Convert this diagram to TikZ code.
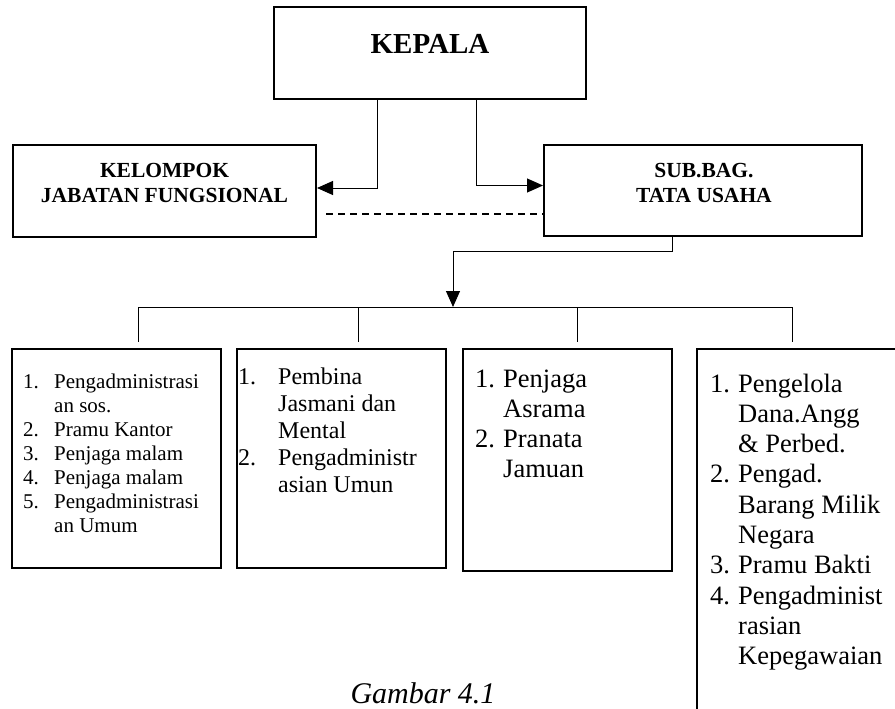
\documentclass[tikz,border=0pt]{standalone}
\usepackage{fontspec}
\setmainfont{Liberation Serif}
\usetikzlibrary{arrows.meta}
\tikzset{
  unitbox/.style={draw, line width=2pt, inner sep=0pt},
  conn/.style={line width=1pt, -{Triangle[length=16pt,width=14pt]}},
  link/.style={line width=1pt},
  listtxt/.style={anchor=base west, inner sep=0pt},
  headtxt/.style={anchor=base, inner sep=0pt},
}
\newcommand{\fs}[2]{\fontsize{#1}{#2}\selectfont}
\newcommand{\itemlist}[2]{\begin{tabular}[t]{@{}p{#1}@{}l@{}}#2\end{tabular}}
\newcommand{\headlines}[1]{\begin{tabular}[t]{@{}c@{}}#1\end{tabular}}

\begin{document}
\begin{tikzpicture}[x=1pt, y=-1pt]
\useasboundingbox (0,0) rectangle (895,709);
\clip (0,0) rectangle (895,709);
% upper boxes
\node[unitbox, minimum width=312, minimum height=92] (kepala) at (430,53) {};
\node[unitbox, minimum width=303, minimum height=92] (kelompok) at (164.5,191) {};
\node[unitbox, minimum width=318, minimum height=91] (subbag) at (703,190.5) {};
\node[headtxt, font=\bfseries\fs{29}{34}] (kepalatxt) at (430,54) {KEPALA};
\node[headtxt, font=\bfseries\fs{21.5}{25}] (kelompoktxt) at (164.5,177)
  {\headlines{KELOMPOK\\JABATAN FUNGSIONAL}};
\node[headtxt, font=\bfseries\fs{21.5}{25}] (subbagtxt) at (704,177)
  {\headlines{SUB.BAG.\\TATA USAHA}};
% lower boxes
\node[unitbox, minimum width=209, minimum height=219] (box1) at (116.5,458.5) {};
\node[unitbox, minimum width=209, minimum height=219] (box2) at (341.5,458.5) {};
\node[unitbox, minimum width=209, minimum height=222] (box3) at (567.5,460) {};
\node[unitbox, minimum width=210, minimum height=375] (box4) at (802,536.5) {};
\node[listtxt, font=\fs{21}{24}] (list1) at (23,388) {\itemlist{31pt}{%
  1. & Pengadministrasi\\ & an sos.\\ 2. & Pramu Kantor\\ 3. & Penjaga malam\\
  4. & Penjaga malam\\ 5. & Pengadministrasi\\ & an Umum}};
\node[listtxt, font=\fs{24}{27}] (list2) at (238,384) {\itemlist{40pt}{%
  1. & Pembina\\ & Jasmani dan\\ & Mental\\ 2. & Pengadministr\\ & asian Umun}};
\node[listtxt, font=\fs{26.5}{30.3}] (list3) at (475,387) {\itemlist{28pt}{%
  1. & Penjaga\\ & Asrama\\ 2. & Pranata\\ & Jamuan}};
\node[listtxt, font=\fs{26.5}{30.3}] (list4) at (710,392) {\itemlist{28pt}{%
  1. & Pengelola\\ & Dana.Angg\\ & \& Perbed.\\ 2. & Pengad.\\ & Barang Milik\\
  & Negara\\ 3. & Pramu Bakti\\ 4. & Pengadminist\\ & rasian\\ & Kepegawaian}};
\node[headtxt, font=\itshape\fs{30}{34}] (caption) at (423,703) {Gambar 4.1};
% connectors
\draw[conn] ([xshift=-53]kepala.south) |- ([yshift=3]kelompok.east);
\draw[conn] ([xshift=46]kepala.south) |- ([yshift=5]subbag.west);
\coordinate (dashstart) at (326,214);
\draw[line width=1.6pt, dash pattern=on 7pt off 5pt] (dashstart) -- (dashstart -| subbag.west);
\coordinate (split) at (453,307);
\draw[conn] ([xshift=-31]subbag.south) -- ++(0,14) -| (split);
\coordinate (d1) at ([xshift=21.5]box1.north);
\coordinate (d2) at ([xshift=16.5]box2.north);
\coordinate (d3) at ([xshift=9.5]box3.north);
\coordinate (d4) at ([xshift=-10]box4.north);
\draw[link] (d1 |- split) -- (d4 |- split);
\foreach \d in {d1,d2,d3,d4}
  \draw[link] (\d |- split) -- ([yshift=6]\d);
\end{tikzpicture}
\end{document}
